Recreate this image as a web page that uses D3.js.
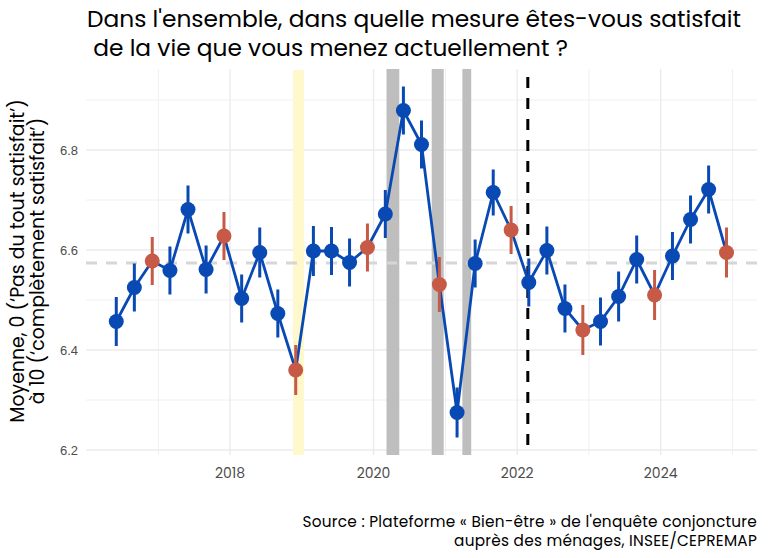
<!DOCTYPE html>
<html><head><meta charset="utf-8">
<script src="https://cdn.jsdelivr.net/npm/d3@7"></script>
<style>body{margin:0;background:#fff}svg{display:block}</style>
</head><body>
<svg id="c" width="768" height="558"></svg>
<script>
const quarters = ["2016-06","2016-09","2016-12","2017-03","2017-06","2017-09","2017-12","2018-03","2018-06","2018-09","2018-12",
"2019-03","2019-06","2019-09","2019-12","2020-03","2020-06","2020-09","2020-12","2021-03","2021-06","2021-09","2021-12",
"2022-03","2022-06","2022-09","2022-12","2023-03","2023-06","2023-09","2023-12","2024-03","2024-06","2024-09","2024-12"];
const values = [6.457,6.525,6.578,6.559,6.681,6.561,6.628,6.503,6.595,6.473,6.360,
6.598,6.598,6.575,6.605,6.672,6.879,6.811,6.531,6.275,6.573,6.715,6.640,
6.535,6.599,6.483,6.440,6.457,6.507,6.581,6.510,6.588,6.661,6.721,6.595];
const errors = [0.049,0.048,0.048,0.048,0.048,0.048,0.048,0.048,0.050,0.048,0.050,
0.050,0.048,0.048,0.048,0.048,0.048,0.048,0.055,0.050,0.048,0.046,0.048,
0.048,0.048,0.048,0.050,0.048,0.050,0.048,0.050,0.048,0.048,0.048,0.050];
const meanValue = 6.574;
const yellowBands = [["2018-11-17","2019-01-13"]];
const greyBands = [["2020-03-07","2020-05-11"],["2020-10-23","2020-12-23"],["2021-03-28","2021-05-12"]];
const eventLine = "2022-02-24";
const yTicks = [6.2,6.4,6.6,6.8];
const yMinor = [6.3,6.5,6.7,6.9];
const xTicks = [2018,2020,2022,2024];
const xMinor = [2017,2019,2021,2023,2025];
const title = ["Dans l'ensemble, dans quelle mesure êtes-vous satisfait"," de la vie que vous menez actuellement ?"];
const yTitle = ["Moyenne, 0 (‘Pas du tout satisfait’)","à 10 (‘complètement satisfait’)"];
const source = ["Source : Plateforme « Bien-être » de l'enquête conjoncture","auprès des ménages, INSEE/CEPREMAP"];

const parseM = d3.timeParse("%Y-%m");
const parseD = d3.timeParse("%Y-%m-%d");
const data = quarters.map((q,i)=>({date:parseM(q), v:values[i], e:errors[i]}));

const svg = d3.select("#c");
const panel = {top:69, bottom:455, left:86, right:757};
const x = d3.scaleTime().domain([new Date(2016,0,1), new Date(2025,0,1)]).range([86.4, 732.6]);
const y = d3.scaleLinear().domain([6.2,6.8]).range([450,150]);
const blue = "#0849b3", red = "#c65a46";
const font = "Poppins, 'Open Sans', sans-serif";

// gridlines
const g = svg.append("g");
g.selectAll(".hmin").data(yMinor).join("line").attr("x1",panel.left).attr("x2",panel.right)
 .attr("y1",d=>y(d)).attr("y2",d=>y(d)).attr("stroke","#f0f0f0").attr("stroke-width",1);
g.selectAll(".vmin").data(xMinor).join("line").attr("y1",panel.top).attr("y2",panel.bottom)
 .attr("x1",d=>x(new Date(d,0,1))).attr("x2",d=>x(new Date(d,0,1))).attr("stroke","#f0f0f0").attr("stroke-width",1);
g.selectAll(".hmaj").data(yTicks).join("line").attr("x1",panel.left).attr("x2",panel.right)
 .attr("y1",d=>y(d)).attr("y2",d=>y(d)).attr("stroke","#ebebeb").attr("stroke-width",1.4);
g.selectAll(".vmaj").data(xTicks).join("line").attr("y1",panel.top).attr("y2",panel.bottom)
 .attr("x1",d=>x(new Date(d,0,1))).attr("x2",d=>x(new Date(d,0,1))).attr("stroke","#ebebeb").attr("stroke-width",1.4);

// bands
svg.selectAll(".yb").data(yellowBands).join("rect")
 .attr("x",d=>x(parseD(d[0]))).attr("width",d=>x(parseD(d[1]))-x(parseD(d[0])))
 .attr("y",panel.top+1).attr("height",panel.bottom-panel.top-1).attr("fill","#fff8cc");
svg.selectAll(".gb").data(greyBands).join("rect")
 .attr("x",d=>x(parseD(d[0]))).attr("width",d=>x(parseD(d[1]))-x(parseD(d[0])))
 .attr("y",panel.top).attr("height",panel.bottom-panel.top).attr("fill","#bebebe");

// mean line
svg.append("line").attr("x1",panel.left).attr("x2",panel.right).attr("y1",y(meanValue)).attr("y2",y(meanValue))
 .attr("stroke","#d6d6d6").attr("stroke-width",3).attr("stroke-dasharray","11,9");

// event line
svg.append("line").attr("x1",x(parseD(eventLine))).attr("x2",x(parseD(eventLine)))
 .attr("y1",panel.top+8).attr("y2",panel.bottom).attr("stroke","#000").attr("stroke-width",3).attr("stroke-dasharray","11,10");

// line
svg.append("path").datum(data).attr("fill","none").attr("stroke",blue).attr("stroke-width",2.8)
 .attr("d",d3.line().x(d=>x(d.date)).y(d=>y(d.v)));

const col = d=>d.date.getMonth()===11 ? red : blue;
svg.selectAll(".err").data(data).join("line")
 .attr("x1",d=>x(d.date)).attr("x2",d=>x(d.date)).attr("y1",d=>y(d.v-d.e)).attr("y2",d=>y(d.v+d.e))
 .attr("stroke",col).attr("stroke-width",3);
svg.selectAll(".pt").data(data).join("circle")
 .attr("cx",d=>x(d.date)).attr("cy",d=>y(d.v)).attr("r",7.5).attr("fill",col);

// axes labels
svg.selectAll(".yl").data(yTicks).join("text").attr("x",78).attr("y",d=>y(d)+4.5)
 .attr("text-anchor","end").attr("font-family","'Liberation Sans', Arial, sans-serif").attr("font-size",13)
 .attr("fill","#4d4d4d").text(d=>d3.format(".1f")(d));
svg.selectAll(".xl").data(xTicks).join("text").attr("x",d=>x(new Date(d,0,1))).attr("y",478)
 .attr("text-anchor","middle").attr("font-family",font).attr("font-size",14)
 .attr("fill","#4d4d4d").text(d=>d);

// title
svg.selectAll(".tt").data(title).join("text").attr("x",87).attr("y",(d,i)=>27+i*29)
 .attr("font-family",font).attr("font-size",23.3).attr("fill","#000").attr("xml:space","preserve")
 .style("white-space","pre").text(d=>d);

// y title
svg.selectAll(".yt").data(yTitle).join("text")
 .attr("transform",(d,i)=>`translate(${24+i*20},261) rotate(-90)`).attr("text-anchor","middle")
 .attr("font-family",font).attr("font-size",18.9).attr("fill","#000").text(d=>d);

// source
svg.selectAll(".src").data(source).join("text").attr("x",757).attr("y",(d,i)=>527+i*19)
 .attr("text-anchor","end").attr("font-family",font).attr("font-size",15.3).attr("letter-spacing",0.25)
 .attr("fill","#000").text(d=>d);
</script>
</body></html>
